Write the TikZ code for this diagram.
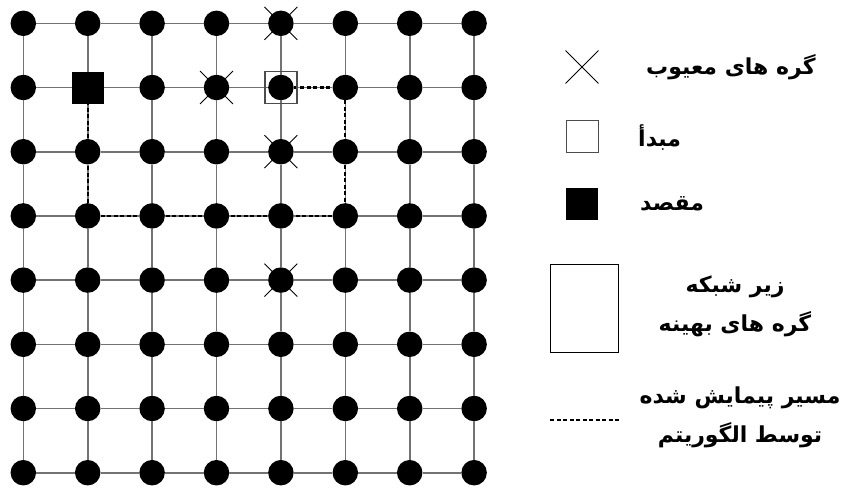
\documentclass[tikz,border=0pt]{standalone}
\usepackage{fontspec}
\usetikzlibrary{shapes.misc}
\TeXXeTstate=1
\newfontfamily\arabicfont[Script=Arabic]{DejaVu Sans}
\definecolor{gridgray}{gray}{0.45}
\definecolor{srcgray}{gray}{0.3}
\begin{document}
\begin{tikzpicture}[x=1pt,y=-1pt,
  dot/.style={circle,fill=black,inner sep=0pt,minimum size=25.5pt},
  gridline/.style={draw=gridgray,line width=1.6pt},
  walk/.style={draw=black,line width=2.3pt,dash pattern=on 4pt off 2.5pt},
  fault/.style={cross out,draw=black,line width=0.9pt,inner sep=0pt,minimum size=32pt},
  srcbox/.style={rectangle,draw=srcgray,line width=1.3pt,inner sep=0pt,minimum size=32pt},
  dstbox/.style={rectangle,fill=black,inner sep=0pt,minimum size=32pt},
  legtext/.style={font=\arabicfont\bfseries\fontsize{22}{39}\selectfont,inner sep=0pt,align=center}
]
\useasboundingbox (0,0) rectangle (861,488);
% grid coordinates
\foreach \i in {0,...,7}{
  \foreach \j in {0,...,7}{
    \coordinate (c\i\j) at ({23.3+64.4*\i},{23.3+64.2*\j});
  }
}
% faulty nodes (crosses behind the dots)
\node[fault] (f40) at (c40) {};
\node[fault] (f31) at (c31) {};
\node[fault] (f42) at (c42) {};
\node[fault] (f44) at (c44) {};
% dots
\foreach \i in {0,...,7}{
  \foreach \j in {0,...,7}{
    \node[dot] (n\i\j) at (c\i\j) {};
  }
}
% grid edges
\foreach \i in {0,...,6}{
  \pgfmathtruncatemacro\k{\i+1}
  \foreach \j in {0,...,7}{
    \draw[gridline] (n\i\j) -- (n\k\j);
    \draw[gridline] (n\j\i) -- (n\j\k);
  }
}
% traversed path
\draw[walk] (n41) -- (n51) -- (n53) -- (n13) -- (n11);
% source and destination
\node[srcbox] (src) at (c41) {};
\node[dstbox] (dst) at (c11) {};

% legend
\node[fault] (lx) at (582,67) {};
\node[legtext,anchor=west] (t1) at (646,67) {\beginR گره های معیوب\endR};
\node[srcbox] (ls) at (582.5,136.7) {};
\node[legtext,anchor=west] (t2) at (638,137) {\beginR مبدأ\endR};
\node[dstbox] (ld) at (582,204) {};
\node[legtext,anchor=west] (t3) at (640,204) {\beginR مقصد\endR};
\node[rectangle,draw=black,line width=1pt,inner sep=0pt,minimum width=67.6pt,minimum height=88pt] (lr) at (584.5,308) {};
\node[legtext] (t4) at (735,306) {\beginR زیر شبکه\endR\\\beginR گره های بهینه\endR};
\coordinate (la) at (550,420);
\coordinate (lb) at (619,420);
\draw[walk] (la) -- (lb);
\node[legtext] (t5) at (740,417) {\beginR مسیر پیمایش شده\endR\\\beginR توسط الگوریتم\endR};
\end{tikzpicture}
\end{document}
